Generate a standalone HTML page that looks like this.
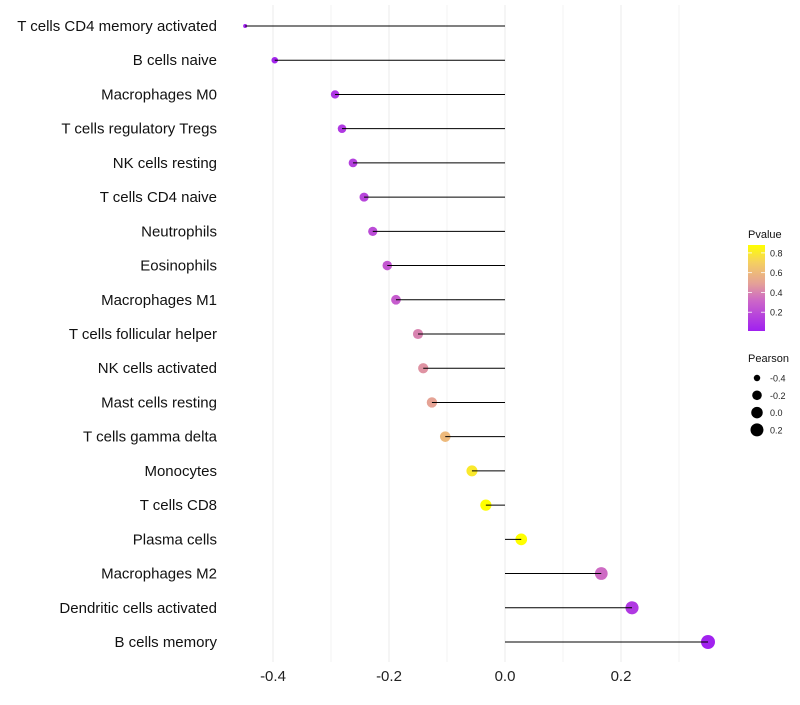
<!DOCTYPE html>
<html><head><meta charset="utf-8"><style>
body{margin:0;background:#fff;font-family:"Liberation Sans",sans-serif;}
</style></head><body>
<svg id="c" width="800" height="700" xmlns="http://www.w3.org/2000/svg">
<defs><linearGradient id="pg" x1="0" y1="1" x2="0" y2="0">
<stop offset="0" stop-color="#a020f0"/><stop offset="0.35" stop-color="#cc66c8"/><stop offset="0.55" stop-color="#e4a098"/><stop offset="0.8" stop-color="#f5d060"/><stop offset="1" stop-color="#ffff00"/>
</linearGradient></defs>
</svg>
<script>
const categories=["T cells CD4 memory activated","B cells naive","Macrophages M0","T cells regulatory  Tregs","NK cells resting","T cells CD4 naive","Neutrophils","Eosinophils","Macrophages M1","T cells follicular helper","NK cells activated","Mast cells resting","T cells gamma delta","Monocytes","T cells CD8","Plasma cells","Macrophages M2","Dendritic cells activated","B cells memory"];
const pearson=[-0.448,-0.397,-0.293,-0.281,-0.262,-0.243,-0.228,-0.203,-0.188,-0.150,-0.141,-0.126,-0.103,-0.057,-0.033,0.028,0.166,0.219,0.350];
const pvalue=[0.02,0.03,0.10,0.12,0.15,0.17,0.20,0.25,0.27,0.40,0.45,0.50,0.60,0.80,0.88,0.88,0.33,0.12,0.02];
const xTicks=[-0.4,-0.2,0.0,0.2];
const minorTicks=[-0.3,-0.1,0.1,0.3];
const pLegend=[0.2,0.4,0.6,0.8];
const sLegend=[-0.4,-0.2,0.0,0.2];
const NS="http://www.w3.org/2000/svg";
const svg=document.getElementById('c');
const x=v=>505+v*580;
const y=i=>26+i*616/18;
const r=v=>2+5*Math.sqrt(Math.max(0,(v+0.448)/0.8));
const stops=[[0,[160,32,240]],[0.35,[204,102,200]],[0.55,[228,160,152]],[0.8,[245,208,96]],[1,[255,255,0]]];
function col(p){let t=Math.max(0,Math.min(1,(p-0.01)/0.87));for(let k=1;k<stops.length;k++){if(t<=stops[k][0]){const a=stops[k-1],b=stops[k],f=(t-a[0])/(b[0]-a[0]);return 'rgb('+a[1].map((c,j)=>Math.round(c+(b[1][j]-c)*f)).join(',')+')';}}return 'rgb(255,255,0)';}
function el(t,a,txt){const e=document.createElementNS(NS,t);for(const k in a)e.setAttribute(k,a[k]);if(txt!=null)e.textContent=txt;svg.appendChild(e);return e;}
minorTicks.forEach(v=>{const g=el('line',{x1:x(v),x2:x(v),y1:5,y2:662,stroke:'#f0f0f0','stroke-width':0.8});

});
xTicks.forEach(v=>{const g=el('line',{x1:x(v),x2:x(v),y1:5,y2:662,stroke:'#ebebeb','stroke-width':1});


const t=el('text',{x:x(v),y:681,'text-anchor':'middle','font-size':15,fill:'#222'},v.toFixed(1));

});
categories.forEach((c,i)=>{
const t=el('text',{x:217,y:y(i)+5,'text-anchor':'end','font-size':15,fill:'#111'},c);


const d=el('circle',{cx:x(pearson[i]),cy:y(i),r:r(pearson[i]),fill:col(pvalue[i])});


const l=el('line',{x1:x(0),x2:x(pearson[i]),y1:y(i),y2:y(i),stroke:'#000','stroke-width':1});


});
let t=el('text',{x:748,y:238,'font-size':11,fill:'#111'},'Pvalue');


let cb=el('rect',{x:748,y:245,width:17,height:86,fill:'url(#pg)'});


pLegend.forEach(p=>{const yy=331-(p-0.01)/0.87*86;
const tk=el('line',{x1:748,x2:752,y1:yy,y2:yy,stroke:'#fff','stroke-width':0.8});


const tk2=el('line',{x1:761,x2:765,y1:yy,y2:yy,stroke:'#fff','stroke-width':0.8});


const lb=el('text',{x:770,y:yy+3.5,'font-size':9,fill:'#222'},p.toFixed(1));

});
t=el('text',{x:748,y:362,'font-size':11,fill:'#111'},'Pearson');


sLegend.forEach((s,k)=>{const yy=378+k*17.3;
const c=el('circle',{cx:757,cy:yy,r:r(s),fill:'#000'});


const lb=el('text',{x:770,y:yy+3.5,'font-size':9,fill:'#222'},s.toFixed(1));

});
</script>
</body></html>
